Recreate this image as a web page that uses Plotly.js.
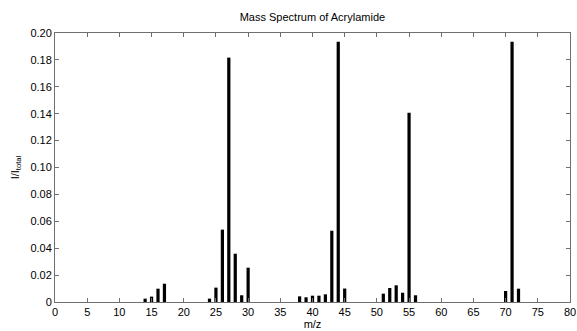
<!DOCTYPE html>
<html>
<head>
<meta charset="utf-8">
<script src="https://cdn.plot.ly/plotly-3.0.1.min.js"></script>
<style>html,body{margin:0;padding:0;background:#fff;}#chart{width:577px;height:331px;}</style>
</head>
<body>
<div id="chart"></div>
<script>
const mz = [14, 15, 16, 17, 24, 25, 26, 27, 28, 29, 30, 38, 39, 40, 41, 42, 43, 44, 45, 51, 52, 53, 54, 55, 56, 70, 71, 72];
const intensity = [0.0025, 0.004, 0.0099, 0.0136, 0.0025, 0.0107, 0.0538, 0.1817, 0.0359, 0.005, 0.0255, 0.0042, 0.0035, 0.0047, 0.0047, 0.0057, 0.053, 0.1935, 0.01, 0.0062, 0.0104, 0.0124, 0.0069, 0.1407, 0.005, 0.0082, 0.1935, 0.0099];
const xTicks = [0, 5, 10, 15, 20, 25, 30, 35, 40, 45, 50, 55, 60, 65, 70, 75, 80];
const yTicks = [0, 0.02, 0.04, 0.06, 0.08, 0.10, 0.12, 0.14, 0.16, 0.18, 0.20];
const yTickText = ['0', '0.02', '0.04', '0.06', '0.08', '0.10', '0.12', '0.14', '0.16', '0.18', '0.20'];

const font = {family: 'Liberation Sans, Arial, sans-serif', size: 11, color: '#000'};
const axisCommon = {
  showline: true, linecolor: '#707070', linewidth: 1, mirror: 'ticks',
  ticks: 'inside', ticklen: 4, tickcolor: '#707070', tickwidth: 1,
  showgrid: false, zeroline: false, tickfont: font
};
Plotly.newPlot('chart', [{
  type: 'bar', x: mz, y: intensity, width: 0.5,
  marker: {color: '#000', line: {width: 0}}
}], {
  width: 577, height: 331,
  margin: {l: 55, r: 7, t: 33, b: 29, pad: 0},
  paper_bgcolor: '#fff', plot_bgcolor: '#fff',
  font: font, showlegend: false,
  title: {text: 'Mass Spectrum of Acrylamide', font: font, x: 0.5415, xanchor: 'center', y: 0.948, yanchor: 'middle'},
  xaxis: Object.assign({}, axisCommon, {
    range: [0, 80], tickvals: xTicks, ticktext: xTicks.map(String),
    title: {text: 'm/z', font: font, standoff: 2}
  }),
  yaxis: Object.assign({}, axisCommon, {
    range: [0, 0.2], tickvals: yTicks, ticktext: yTickText,
    title: {text: 'I/I<sub>total</sub>', font: font, standoff: 8}
  })
}, {staticPlot: true, displayModeBar: false});
</script>
</body>
</html>
